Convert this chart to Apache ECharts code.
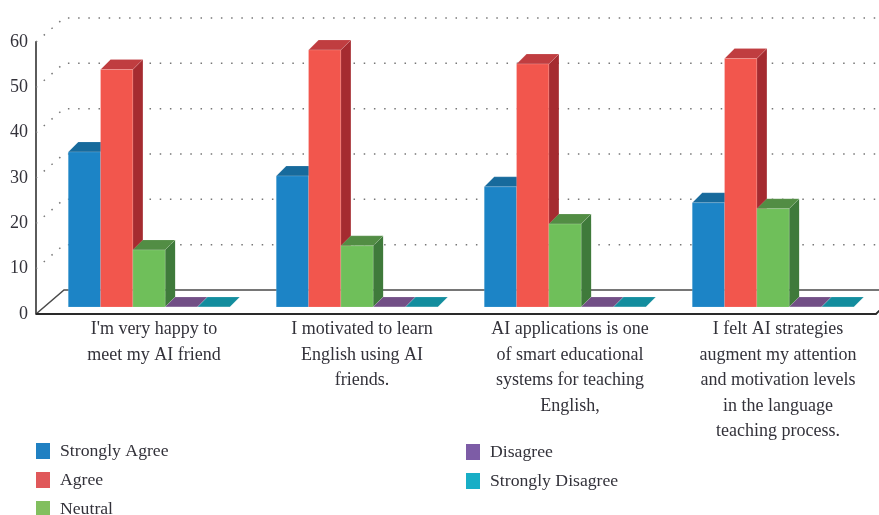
<!DOCTYPE html>
<html>
<head>
<meta charset="utf-8">
<title>AI friends survey</title>
<script src="https://cdn.jsdelivr.net/npm/echarts@6/dist/echarts.min.js"></script>
<style>
html, body { margin: 0; background: #fff; }
#chart { width: 879px; height: 515px; }
</style>
</head>
<body>
<div id="chart"></div>
<script>
var categories = [
    "I'm very happy to\nmeet my AI friend",
    "I motivated to learn\nEnglish using AI\nfriends.",
    "AI applications is one\nof smart educational\nsystems for teaching\nEnglish,",
    "I felt AI strategies\naugment my attention\nand motivation levels\nin the language\nteaching process."
];
var stronglyAgree = [34.2, 28.9, 26.5, 23];
var agree = [52.4, 56.7, 53.6, 54.8];
var neutral = [12.6, 13.5, 18.3, 21.7];
var disagree = [0, 0, 0, 0];
var stronglyDisagree = [0, 0, 0, 0];
var levels = [0, 10, 20, 30, 40, 50, 60];

var names = ['Strongly Agree', 'Agree', 'Neutral', 'Disagree', 'Strongly Disagree'];
var values = [stronglyAgree, agree, neutral, disagree, stronglyDisagree];

// front, top and side face of each bar, then the legend swatch
var palette = [
    { front: '#1c84c6', top: '#176a9c', side: '#14608f', legend: '#2080c2' },
    { front: '#f2564d', top: '#c03d40', side: '#a52b30', legend: '#e0585a' },
    { front: '#6fbf5a', top: '#528d44', side: '#3f7a3b', legend: '#82bf5f' },
    { front: '#8a5ea8', top: '#724f86', side: '#5f4070', legend: '#7d5ca6' },
    { front: '#17a9bd', top: '#138d9e', side: '#0f7583', legend: '#18aec6' }
];

var FONT = '"Liberation Serif", serif';
var TEXT = '#33323a';
var BAR_W = 32.3;
var DEPTH = 10;      // depth of a bar
var WALL_X = 28;     // offset of the back wall
var WALL_Y = 24;
var AXIS_GAP = 14;   // y axis sits left of the grid
var FLOOR_Y = 7;     // bars stand a little behind the front edge
var GROUP_SHIFT = -5;

function renderWall(params, api) {
    var v = api.value(0);
    var y = api.coord([0, v])[1];
    var x0 = params.coordSys.x - AXIS_GAP;
    var back = y - WALL_Y;
    var dotted = { stroke: '#777', lineWidth: 1.5, lineDash: [1.5, 8.7], fill: null };
    var solid = { stroke: '#4a4a4a', lineWidth: 1.5, fill: null };
    var shapes = [{
        type: 'polyline',
        shape: { points: [[x0, y], [x0 + WALL_X, back], [879, back]] },
        style: v === 0 ? solid : dotted,
        silent: true
    }];
    if (v === 0) {
        shapes.push({
            type: 'polyline',
            shape: { points: [[x0, y], [876, y], [882, y - 6]] },
            style: { stroke: '#2a2a2a', lineWidth: 1.8, fill: null },
            silent: true
        });
    }
    return { type: 'group', children: shapes };
}

function makeRenderBar(idx) {
    var c = palette[idx];
    return function (params, api) {
        var pos = api.coord([api.value(0), api.value(1)]);
        var base = api.coord([api.value(0), 0])[1] - FLOOR_Y;
        var top = pos[1] - FLOOR_Y;
        var x = pos[0] + GROUP_SHIFT + (idx - 2.5) * BAR_W;
        var edge = { stroke: 'rgba(255,255,255,0.15)', lineWidth: 1 };
        return {
            type: 'group',
            children: [{
                type: 'polygon',
                shape: { points: [[x + BAR_W, top], [x + BAR_W + DEPTH, top - DEPTH], [x + BAR_W + DEPTH, base - DEPTH], [x + BAR_W, base]] },
                style: { fill: c.side }
            }, {
                type: 'polygon',
                shape: { points: [[x, top], [x + DEPTH, top - DEPTH], [x + BAR_W + DEPTH, top - DEPTH], [x + BAR_W, top]] },
                style: Object.assign({ fill: c.top }, edge)
            }, {
                type: 'rect',
                shape: { x: x, y: top, width: BAR_W, height: base - top },
                style: Object.assign({ fill: c.front }, edge)
            }]
        };
    };
}

var series = [{
    type: 'custom',
    name: 'wall',
    silent: true,
    renderItem: renderWall,
    encode: { y: 0 },
    data: levels.map(function (v) { return [v]; })
}];

names.forEach(function (name, i) {
    series.push({
        type: 'custom',
        name: name,
        renderItem: makeRenderBar(i),
        itemStyle: { color: palette[i].legend },
        encode: { x: 0, y: 1 },
        data: values[i].map(function (v, c) { return [c, v]; })
    });
});

function legendFor(list, left, top) {
    return {
        orient: 'vertical',
        left: left,
        top: top,
        height: 120,
        itemWidth: 14,
        itemHeight: 16,
        itemGap: 11,
        icon: 'rect',
        selectedMode: false,
        textStyle: { fontFamily: FONT, fontSize: 17.7, color: TEXT, padding: [0, 0, 0, 5] },
        data: list.map(function (name) {
            return { name: name, itemStyle: { color: palette[names.indexOf(name)].legend } };
        })
    };
}

var chart = echarts.init(document.getElementById('chart'));
chart.setOption({
    animation: false,
    backgroundColor: '#fff',
    legend: [
        legendFor(names.slice(0, 3), 31, 437),
        legendFor(names.slice(3), 461, 438)
    ],
    grid: { left: 50, top: 42, width: 832, height: 272, outerBoundsMode: 'none' },
    xAxis: {
        type: 'category',
        data: categories,
        axisLine: { show: false },
        axisTick: { show: false },
        axisLabel: {
            fontFamily: FONT,
            fontSize: 18,
            color: TEXT,
            lineHeight: 25.5,
            margin: 3,
            interval: 0
        }
    },
    yAxis: {
        type: 'value',
        min: 0,
        max: 60,
        interval: 10,
        offset: AXIS_GAP,
        axisLine: { show: true, lineStyle: { color: '#4a4a4a', width: 1.8 } },
        axisTick: { show: false },
        splitLine: { show: false },
        axisLabel: { fontFamily: FONT, fontSize: 18, color: TEXT, margin: 8 }
    },
    series: series
});
</script>
</body>
</html>
